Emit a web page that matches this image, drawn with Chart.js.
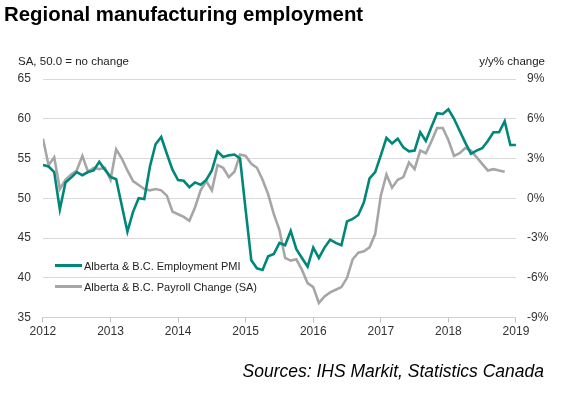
<!DOCTYPE html>
<html>
<head>
<meta charset="utf-8">
<script src="https://cdn.jsdelivr.net/npm/chart.js@4.4.1/dist/chart.umd.min.js"></script>
<style>
  body { margin: 0; background: #fff; font-family: 'Liberation Sans', Arial, sans-serif; }
  #wrap { position: relative; width: 564px; height: 394px; }
  #grafico { position: absolute; left: 0; top: 0; }
  .txt { position: absolute; line-height: 1; white-space: nowrap; color: #000; }
  .leg { position: absolute; left: 55px; line-height: 1; font-size: 11px; color: #222; white-space: nowrap; }
  .leg span { display: inline-block; width: 27px; height: 3px; vertical-align: 3px; margin-right: 2px; }
</style>
</head>
<body>
<div id="wrap">
  <canvas id="grafico" width="564" height="394"></canvas>
  <div class="txt" style="left:4px; top:4px; font-size:20.4px; font-weight:bold;">Regional manufacturing employment</div>
  <div class="txt" style="left:18px; top:56px; font-size:11.5px; color:#222;">SA, 50.0 = no change</div>
  <div class="txt" style="right:19px; top:56px; font-size:11.5px; color:#222;">y/y% change</div>
  <div class="txt" style="right:20px; top:363px; font-size:17.5px; font-style:italic;">Sources: IHS Markit, Statistics Canada</div>
  <div id="legend"></div>
</div>
<script>
// years on the x axis, one tick every 12 months from Jan 2012
var yearLabels = ['2012', '2013', '2014', '2015', '2016', '2017', '2018', '2019'];

// Alberta & B.C. Employment PMI, monthly Jan 2012 - Jan 2019 (left axis)
var pmi = [
    54.2, 54.0, 53.3, 48.6, 52.0, 52.6, 53.3, 52.9, 53.3, 53.5, 54.6, 53.6,
    52.7, 52.4, 49.1, 45.8, 48.3, 50.0, 49.9, 54.0, 56.8, 57.7, 55.6, 53.6,
    52.3, 52.2, 51.4, 52.0, 51.7, 52.3, 53.5, 55.9, 55.2, 55.4, 55.5, 55.0,
    48.5, 42.2, 41.2, 41.0, 42.7, 43.0, 44.4, 44.1, 45.9, 43.6, 42.5, 41.4,
    43.8, 42.5, 43.8, 44.8, 44.4, 44.1, 47.1, 47.4, 47.9, 49.5, 52.5, 53.3,
    55.4, 57.6, 56.9, 57.5, 56.4, 55.9, 56.0, 58.3, 57.2, 59.0, 60.7, 60.6,
    61.2, 60.0, 58.5, 57.0, 55.6, 56.0, 56.3, 57.2, 58.3, 58.3, 59.7, 56.7,
    56.7
];

// Alberta & B.C. Payroll Change (SA), y/y %, monthly Jan 2012 - Nov 2018 (right axis)
var payroll = [
    4.5, 2.5, 3.1, 0.7, 1.4, 1.8, 2.1, 3.2, 2.0, 2.3, 2.2, 2.3,
    1.4, 3.7, 3.0, 2.1, 1.3, 1.0, 0.7, 0.6, 0.7, 0.6, 0.2, -1.0,
    -1.2, -1.4, -1.7, -0.7, 0.6, 1.3, 0.6, 2.5, 2.3, 1.6, 2.0, 3.3,
    3.2, 2.6, 2.3, 1.4, 0.3, -1.2, -2.4, -4.5, -4.7, -4.6, -5.4, -6.4,
    -6.7, -7.9, -7.4, -7.1, -6.9, -6.7, -6.0, -4.6, -4.1, -4.0, -3.7, -2.7,
    0.2, 1.8, 0.8, 1.4, 1.6, 2.7, 2.2, 3.6, 3.4, 4.3, 5.3, 5.3,
    4.4, 3.2, 3.4, 3.8, 3.6, 3.1, 2.6, 2.1, 2.2, 2.1, 2.0
];

var seriesNames = ['Alberta & B.C. Employment PMI', 'Alberta & B.C. Payroll Change (SA)'];
var seriesColors = ['#00877a', '#a6a6a6'];

function toPoints(arr) {
    return arr.map(function (v, i) { return { x: i, y: v }; });
}

var data = {
    datasets: [{
        label: seriesNames[0],
        data: toPoints(pmi),
        borderColor: seriesColors[0],
        borderWidth: 2.6,
        pointRadius: 0,
        yAxisID: 'y',
        tension: 0
    },
    {
        label: seriesNames[1],
        data: toPoints(payroll),
        borderColor: seriesColors[1],
        borderWidth: 2.6,
        pointRadius: 0,
        yAxisID: 'y1',
        tension: 0
    }]
};

var tickFont = { family: "'Liberation Sans', Arial, sans-serif", size: 12 };

var options = {
    responsive: false,
    animation: false,
    layout: { padding: { left: 5.6, right: 4.7, top: 79, bottom: 53 } },
    plugins: { legend: { display: false }, tooltip: { enabled: false } },
    scales: {
        x: {
            type: 'linear',
            min: 0,
            max: 84,
            grid: { drawOnChartArea: false, drawTicks: true, tickLength: 5, color: '#bfbfbf' },
            border: { display: true, color: '#d0d0d0' },
            ticks: {
                stepSize: 12,
                autoSkip: false,
                maxRotation: 0,
                padding: 2,
                color: '#333',
                font: tickFont,
                callback: function (v) { return yearLabels[v / 12]; }
            }
        },
        y: {
            position: 'left',
            min: 35,
            max: 65,
            grid: { color: '#d9d9d9', drawTicks: false },
            border: { display: false },
            ticks: { stepSize: 5, padding: 12, color: '#333', font: tickFont }
        },
        y1: {
            position: 'right',
            min: -9,
            max: 9,
            grid: { drawOnChartArea: false, drawTicks: false },
            border: { display: false },
            ticks: {
                stepSize: 3,
                padding: 11,
                color: '#333',
                font: tickFont,
                callback: function (v) { return v + '%'; }
            }
        }
    }
};

var ctx = document.querySelector('#grafico').getContext('2d');
var lineChart = new Chart(ctx, { type: 'line', data: data, options: options });

// legend inside the plot, lower left
var legend = document.getElementById('legend');
seriesNames.forEach(function (name, i) {
    var row = document.createElement('div');
    row.className = 'leg';
    row.style.top = (260.5 + i * 21.6) + 'px';
    row.innerHTML = '<span style="background:' + seriesColors[i] + '"></span>' + name.replace('&', '&amp;');
    legend.appendChild(row);
});
</script>
</body>
</html>
